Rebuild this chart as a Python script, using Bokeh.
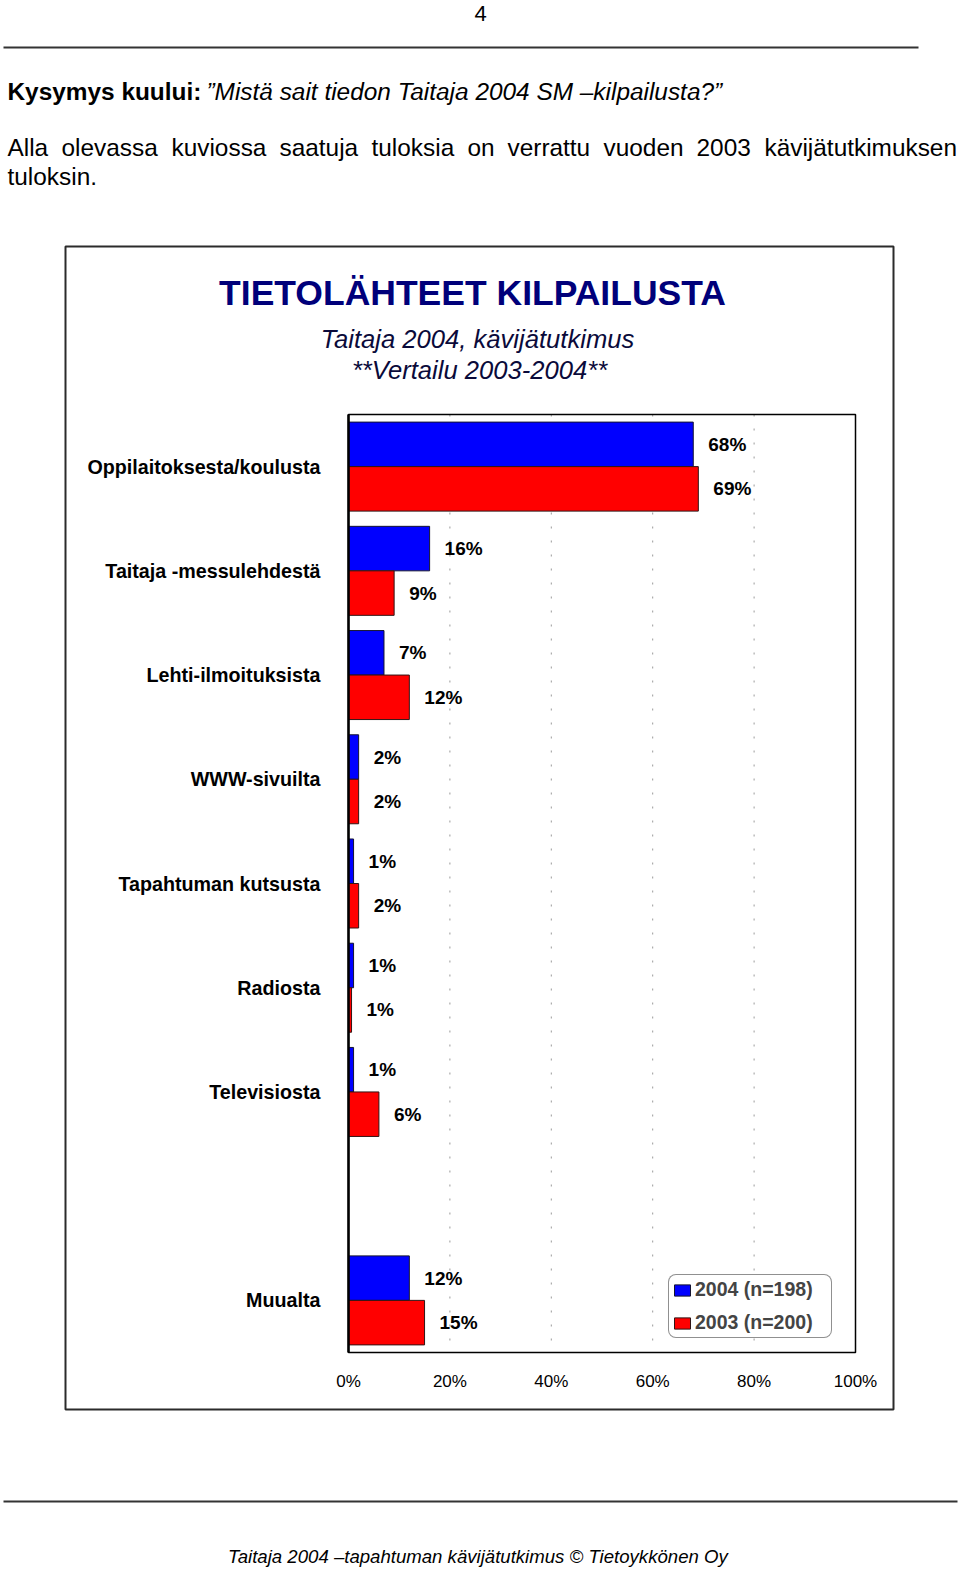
from bokeh.plotting import figure
from bokeh.models import (Range1d, ColumnDataSource, Label, BoxAnnotation, LinearAxis,
                          Legend, LegendItem, FixedTicker, PrintfTickFormatter)
from bokeh.transform import dodge
from bokeh.core.properties import value
from bokeh.embed import file_html
from bokeh.resources import INLINE

# ---------------- data ----------------
categories = ["Oppilaitoksesta/koulusta", "Taitaja -messulehdestä", "Lehti-ilmoituksista",
              "WWW-sivuilta", "Tapahtuman kutsusta", "Radiosta", "Televisiosta", "", "Muualta"]
pct_2004 = [68, 16, 7, 2, 1, 1, 1, float("nan"), 12]
pct_2003 = [69, 9, 12, 2, 2, 0.6, 6, float("nan"), 15]
labels_2004 = ["68%", "16%", "7%", "2%", "1%", "1%", "1%", "", "12%"]
labels_2003 = ["69%", "9%", "12%", "2%", "2%", "1%", "6%", "", "15%"]
series_names = ["2004 (n=198)", "2003 (n=200)"]
x_ticks = [0, 20, 40, 60, 80, 100]

FONT = "Liberation Sans"
BLUE = "#0000FF"
RED = "#FF0000"

# ---------------- page geometry ----------------
W, H = 960, 1573
PL, PR, PT, PB = 348, 855, 414, 1352          # plot area on the page (px)
n = len(categories)
kx = (PR - PL) / (x_ticks[-1] - x_ticks[0])   # px per percent
ky = (PB - PT) / n                            # px per category slot
x_start = x_ticks[0] - PL / kx
x_end = x_start + W / kx
y_top = -0.5 - PT / ky                        # slot coordinate at page top
y_bottom = y_top + H / ky

slot = list(range(n))
src = ColumnDataSource(dict(y=slot, v2004=pct_2004, v2003=pct_2003,
                            l2004=labels_2004, l2003=labels_2003))

p = figure(width=W, height=H, output_backend="svg", toolbar_location=None,
           x_range=Range1d(x_start, x_end), y_range=Range1d(y_bottom, y_top),
           x_axis_location=None, y_axis_location=None,
           min_border=0, min_border_left=0, min_border_right=0,
           min_border_top=0, min_border_bottom=0)
p.background_fill_color = "white"
p.border_fill_color = "white"
p.outline_line_color = None
p.xgrid.visible = False
p.ygrid.visible = False

# dashed vertical gridlines inside plot area
inner = x_ticks[1:-1]
p.segment(x0=inner, x1=inner, y0=[-0.5] * len(inner), y1=[n - 0.5] * len(inner),
          line_color="#9a9a9a", line_dash="2 12", line_width=1)

off = 0.2135
bh = 0.427
r1 = p.hbar(y=dodge("y", -off), left=0, right="v2004", height=bh,
            source=src, fill_color=BLUE, line_color="#151530", line_width=1)
r2 = p.hbar(y=dodge("y", off), left=0, right="v2003", height=bh,
            source=src, fill_color=RED, line_color="#301515", line_width=1)

for col, lab, o in (("v2004", "l2004", -off), ("v2003", "l2003", off)):
    p.text(x=col, y=dodge("y", o), text=lab, source=src,
           x_offset=15, text_align="left", text_baseline="middle",
           text_font=value(FONT), text_font_style="bold", text_font_size="19px",
           text_color="black")

# plot-area frame
p.quad(left=[x_ticks[0]], right=[x_ticks[-1]], top=[-0.5], bottom=[n - 0.5],
       fill_color=None, line_color="black", line_width=1.5)
p.segment(x0=[x_ticks[0]], x1=[x_ticks[0]], y0=[-0.5], y1=[n - 0.5],
          line_color="black", line_width=2.5)

# axes, fixed to the plot-area edges
xa = LinearAxis(fixed_location=n - 0.5)
xa.ticker = FixedTicker(ticks=x_ticks)
xa.formatter = PrintfTickFormatter(format="%d%%")
xa.major_tick_out = 0
xa.major_tick_in = 0
xa.minor_tick_out = 0
xa.minor_tick_in = 0
xa.axis_line_color = None
xa.major_label_standoff = 19
xa.major_label_text_font = FONT
xa.major_label_text_font_size = "17px"
xa.major_label_text_color = "black"
p.add_layout(xa, "below")

ya = LinearAxis(fixed_location=x_ticks[0])
ya.ticker = FixedTicker(ticks=slot)
ya.major_label_overrides = {i: c for i, c in enumerate(categories)}
ya.major_tick_out = 0
ya.major_tick_in = 0
ya.minor_tick_out = 0
ya.minor_tick_in = 0
ya.axis_line_color = None
ya.major_label_standoff = 28
ya.major_label_text_font = FONT
ya.major_label_text_font_style = "bold"
ya.major_label_text_font_size = "19.7px"
ya.major_label_text_color = "black"
p.add_layout(ya, "left")

# legend
legend = Legend(items=[LegendItem(label=series_names[0], renderers=[r1]),
                       LegendItem(label=series_names[1], renderers=[r2])],
                location=(668, H - 1338))
legend.label_text_font = FONT
legend.label_text_font_style = "bold"
legend.label_text_font_size = "19.5px"
legend.label_height = 20
legend.label_width = 133
legend.glyph_width = 20
legend.glyph_height = 14
legend.label_standoff = 3
legend.spacing = 10
legend.padding = 3
legend.margin = 0
legend.border_line_color = "#222222"
legend.border_line_width = 1.5
legend.background_fill_color = "white"
legend.background_fill_alpha = 1
try:
    legend.border_radius = 8
except Exception:
    pass
p.add_layout(legend)


# ---------------- page elements (screen units; frame = whole page) ----------------
def add_text(txt, px, py, size, style="normal", color="black", align="left"):
    p.add_layout(Label(x=px, y=H - py, x_units="screen", y_units="screen", text=txt,
                       text_font=FONT, text_font_size=f"{size}px", text_font_style=style,
                       text_color=color, text_align=align, text_baseline="middle"))


def add_box(l, r, t, b, fill=None, line=None, lw=1):
    box = BoxAnnotation(left=l, right=r, top=H - t, bottom=H - b,
                        left_units="screen", right_units="screen",
                        top_units="screen", bottom_units="screen",
                        fill_color=fill, fill_alpha=1 if fill else 0,
                        line_color=line, line_width=lw, line_alpha=1 if line else 0)
    p.add_layout(box)


BODY = 24.4

# page number and rules
add_text("4", 480, 13, 22, align="center")
add_box(3, 918, 46, 48, fill="#333333")
add_box(3, 957, 1500, 1502, fill="#333333")

# intro text (second line justified word by word)
add_text("Kysymys kuului:", 7, 91, BODY, style="bold")
add_text("\u201dMistä sait tiedon Taitaja 2004 SM \u2013kilpailusta?\u201d", 206, 91, BODY, style="italic")
line2 = [("Alla", 7), ("olevassa", 61), ("kuviossa", 171), ("saatuja", 279), ("tuloksia", 371),
         ("on", 467), ("verrattu", 507), ("vuoden", 603), ("2003", 696), ("kävijätutkimuksen", 764)]
for w, x in line2:
    add_text(w, x, 147, BODY)
add_text("tuloksin.", 7, 176, BODY)

# chart box
add_box(65, 893, 246, 1409, line="#2b2b2b", lw=2)

# chart titles
add_text("TIETOLÄHTEET KILPAILUSTA", 472, 292, 35.5, style="bold", color="#00007a", align="center")
add_text("Taitaja 2004, kävijätutkimus", 477, 338, 25.6, style="italic", color="#0a0a3a", align="center")
add_text("**Vertailu 2003-2004**", 479, 369, 25.6, style="italic", color="#0a0a3a", align="center")

# footer
add_text("Taitaja 2004 \u2013tapahtuman kävijätutkimus  \u00a9 Tietoykkönen Oy", 480, 1556, 18.6,
         style="italic", align="center")

open("out.html", "w").write(file_html(p, INLINE))
